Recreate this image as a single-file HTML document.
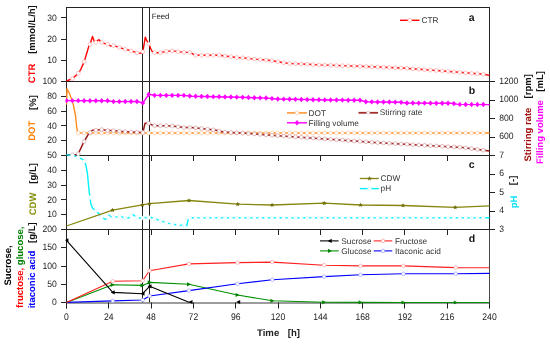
<!DOCTYPE html><html><head><meta charset="utf-8"><style>html,body{margin:0;padding:0;background:#fff;width:550px;height:345px;overflow:hidden;position:relative;font-family:"Liberation Sans",sans-serif}</style></head><body><svg width="550" height="345" viewBox="0 0 550 345" style="position:absolute;left:0;top:0;will-change:transform;text-rendering:geometricPrecision">
<rect width="550" height="345" fill="#fff"/>
<defs>
<clipPath id="ca"><rect x="65.5" y="4.5" width="425.0" height="79.0"/></clipPath>
<clipPath id="cb"><rect x="65.5" y="78.5" width="425.0" height="79.0"/></clipPath>
<clipPath id="cc"><rect x="65.5" y="152.5" width="425.0" height="79.0"/></clipPath>
<clipPath id="cd"><rect x="65.5" y="226.5" width="425.0" height="78.0"/></clipPath>
</defs>
<line x1="66.5" y1="7.5" x2="489.5" y2="7.5" stroke="#222" stroke-width="1" fill="none"/>
<line x1="66.5" y1="7.0" x2="66.5" y2="308.5" stroke="#222" stroke-width="1" fill="none"/>
<line x1="489.5" y1="7.0" x2="489.5" y2="230.0" stroke="#222" stroke-width="1" fill="none"/>
<line x1="489.5" y1="230.0" x2="489.5" y2="308.5" stroke="#4a4a4a" stroke-width="1.05"/>
<line x1="66.5" y1="303" x2="489.5" y2="303" stroke="#3a3a3a" stroke-width="1.1"/>
<line x1="66.5" y1="81.5" x2="489.5" y2="81.5" stroke="#222" stroke-width="1" fill="none"/>
<line x1="66.5" y1="155.5" x2="489.5" y2="155.5" stroke="#222" stroke-width="1" fill="none"/>
<line x1="66.5" y1="229.5" x2="489.5" y2="229.5" stroke="#222" stroke-width="1" fill="none"/>
<line x1="142.5" y1="7.5" x2="142.5" y2="302.5" stroke="#222" stroke-width="1" fill="none"/>
<line x1="149.5" y1="7.5" x2="149.5" y2="302.5" stroke="#222" stroke-width="1" fill="none"/>
<line x1="61" y1="60.5" x2="66.5" y2="60.5" stroke="#222" stroke-width="1" fill="none"/>
<line x1="61" y1="39.5" x2="66.5" y2="39.5" stroke="#222" stroke-width="1" fill="none"/>
<line x1="61" y1="17.5" x2="66.5" y2="17.5" stroke="#222" stroke-width="1" fill="none"/>
<line x1="61" y1="155.5" x2="66.5" y2="155.5" stroke="#222" stroke-width="1" fill="none"/>
<line x1="61" y1="140.5" x2="66.5" y2="140.5" stroke="#222" stroke-width="1" fill="none"/>
<line x1="61" y1="125.5" x2="66.5" y2="125.5" stroke="#222" stroke-width="1" fill="none"/>
<line x1="61" y1="111.5" x2="66.5" y2="111.5" stroke="#222" stroke-width="1" fill="none"/>
<line x1="61" y1="96.5" x2="66.5" y2="96.5" stroke="#222" stroke-width="1" fill="none"/>
<line x1="61" y1="81.5" x2="66.5" y2="81.5" stroke="#222" stroke-width="1" fill="none"/>
<line x1="61" y1="229.5" x2="66.5" y2="229.5" stroke="#222" stroke-width="1" fill="none"/>
<line x1="61" y1="214.5" x2="66.5" y2="214.5" stroke="#222" stroke-width="1" fill="none"/>
<line x1="61" y1="199.5" x2="66.5" y2="199.5" stroke="#222" stroke-width="1" fill="none"/>
<line x1="61" y1="185.5" x2="66.5" y2="185.5" stroke="#222" stroke-width="1" fill="none"/>
<line x1="61" y1="170.5" x2="66.5" y2="170.5" stroke="#222" stroke-width="1" fill="none"/>
<line x1="61" y1="155.5" x2="66.5" y2="155.5" stroke="#222" stroke-width="1" fill="none"/>
<line x1="61" y1="302.5" x2="66.5" y2="302.5" stroke="#222" stroke-width="1" fill="none"/>
<line x1="61" y1="284.5" x2="66.5" y2="284.5" stroke="#222" stroke-width="1" fill="none"/>
<line x1="61" y1="266.5" x2="66.5" y2="266.5" stroke="#222" stroke-width="1" fill="none"/>
<line x1="61" y1="247.5" x2="66.5" y2="247.5" stroke="#222" stroke-width="1" fill="none"/>
<line x1="61" y1="229.5" x2="66.5" y2="229.5" stroke="#222" stroke-width="1" fill="none"/>
<line x1="489.5" y1="155.5" x2="495" y2="155.5" stroke="#222" stroke-width="1" fill="none"/>
<line x1="489.5" y1="137.5" x2="495" y2="137.5" stroke="#222" stroke-width="1" fill="none"/>
<line x1="489.5" y1="118.5" x2="495" y2="118.5" stroke="#222" stroke-width="1" fill="none"/>
<line x1="489.5" y1="100.5" x2="495" y2="100.5" stroke="#222" stroke-width="1" fill="none"/>
<line x1="489.5" y1="81.5" x2="495" y2="81.5" stroke="#222" stroke-width="1" fill="none"/>
<line x1="489.5" y1="229.5" x2="495" y2="229.5" stroke="#222" stroke-width="1" fill="none"/>
<line x1="489.5" y1="211.5" x2="495" y2="211.5" stroke="#222" stroke-width="1" fill="none"/>
<line x1="489.5" y1="192.5" x2="495" y2="192.5" stroke="#222" stroke-width="1" fill="none"/>
<line x1="489.5" y1="174.5" x2="495" y2="174.5" stroke="#222" stroke-width="1" fill="none"/>
<line x1="489.5" y1="155.5" x2="495" y2="155.5" stroke="#222" stroke-width="1" fill="none"/>
<line x1="66.5" y1="302.5" x2="66.5" y2="308.5" stroke="#222" stroke-width="1" fill="none"/>
<line x1="108.5" y1="155.5" x2="108.5" y2="161.0" stroke="#222" stroke-width="1" fill="none"/>
<line x1="108.5" y1="229.5" x2="108.5" y2="235.0" stroke="#222" stroke-width="1" fill="none"/>
<line x1="108.5" y1="302.5" x2="108.5" y2="308.5" stroke="#222" stroke-width="1" fill="none"/>
<line x1="151.5" y1="155.5" x2="151.5" y2="161.0" stroke="#222" stroke-width="1" fill="none"/>
<line x1="151.5" y1="229.5" x2="151.5" y2="235.0" stroke="#222" stroke-width="1" fill="none"/>
<line x1="151.5" y1="302.5" x2="151.5" y2="308.5" stroke="#222" stroke-width="1" fill="none"/>
<line x1="193.5" y1="155.5" x2="193.5" y2="161.0" stroke="#222" stroke-width="1" fill="none"/>
<line x1="193.5" y1="229.5" x2="193.5" y2="235.0" stroke="#222" stroke-width="1" fill="none"/>
<line x1="193.5" y1="302.5" x2="193.5" y2="308.5" stroke="#222" stroke-width="1" fill="none"/>
<line x1="235.5" y1="155.5" x2="235.5" y2="161.0" stroke="#222" stroke-width="1" fill="none"/>
<line x1="235.5" y1="229.5" x2="235.5" y2="235.0" stroke="#222" stroke-width="1" fill="none"/>
<line x1="235.5" y1="302.5" x2="235.5" y2="308.5" stroke="#222" stroke-width="1" fill="none"/>
<line x1="278.5" y1="155.5" x2="278.5" y2="161.0" stroke="#222" stroke-width="1" fill="none"/>
<line x1="278.5" y1="229.5" x2="278.5" y2="235.0" stroke="#222" stroke-width="1" fill="none"/>
<line x1="278.5" y1="302.5" x2="278.5" y2="308.5" stroke="#222" stroke-width="1" fill="none"/>
<line x1="320.5" y1="155.5" x2="320.5" y2="161.0" stroke="#222" stroke-width="1" fill="none"/>
<line x1="320.5" y1="229.5" x2="320.5" y2="235.0" stroke="#222" stroke-width="1" fill="none"/>
<line x1="320.5" y1="302.5" x2="320.5" y2="308.5" stroke="#222" stroke-width="1" fill="none"/>
<line x1="362.5" y1="155.5" x2="362.5" y2="161.0" stroke="#222" stroke-width="1" fill="none"/>
<line x1="362.5" y1="229.5" x2="362.5" y2="235.0" stroke="#222" stroke-width="1" fill="none"/>
<line x1="362.5" y1="302.5" x2="362.5" y2="308.5" stroke="#222" stroke-width="1" fill="none"/>
<line x1="404.5" y1="155.5" x2="404.5" y2="161.0" stroke="#222" stroke-width="1" fill="none"/>
<line x1="404.5" y1="229.5" x2="404.5" y2="235.0" stroke="#222" stroke-width="1" fill="none"/>
<line x1="404.5" y1="302.5" x2="404.5" y2="308.5" stroke="#222" stroke-width="1" fill="none"/>
<line x1="447.5" y1="155.5" x2="447.5" y2="161.0" stroke="#222" stroke-width="1" fill="none"/>
<line x1="447.5" y1="229.5" x2="447.5" y2="235.0" stroke="#222" stroke-width="1" fill="none"/>
<line x1="447.5" y1="302.5" x2="447.5" y2="308.5" stroke="#222" stroke-width="1" fill="none"/>
<line x1="489.5" y1="302.5" x2="489.5" y2="308.5" stroke="#222" stroke-width="1" fill="none"/>
<g clip-path="url(#ca)">
<polyline points="66.50,81.00 72.50,78.60 77.90,73.70 80.60,69.80 83.90,62.40 86.30,54.70 88.70,46.60 89.90,44.70 92.50,36.40 94.10,41.00 95.50,42.90 96.80,41.00 99.00,39.70 101.20,42.30 105.00,43.70 107.70,44.20 110.60,46.00 113.60,45.60 119.50,47.50 125.20,49.30 131.30,50.90 137.00,52.90 142.60,53.20 145.30,37.10 146.50,40.20 148.70,43.80 150.80,48.70 152.30,51.70 154.40,52.70 160.10,52.70 166.20,51.40 172.00,50.90 178.10,51.60 183.90,52.40 189.70,52.40 195.50,55.30 219.10,55.30 225.10,56.00 230.90,56.70 236.90,57.50 242.60,57.80 254.30,59.10 266.20,60.00 272.00,60.70 278.10,61.70 283.90,62.70 289.90,63.60 295.60,63.60 307.20,64.20 318.60,64.90 360.00,66.30 401.30,68.00 440.00,70.80 483.60,74.20 489.50,75.40" fill="none" stroke="#ff0000" stroke-width="1.4" stroke-linejoin="round" />
<circle cx="72.40" cy="78.64" r="1.9" fill="#fff" stroke="#ff9a9a" stroke-width="0.6"/>
<circle cx="78.27" cy="73.17" r="1.9" fill="#fff" stroke="#ff9a9a" stroke-width="0.6"/>
<circle cx="84.14" cy="61.63" r="1.9" fill="#fff" stroke="#ff9a9a" stroke-width="0.6"/>
<circle cx="90.01" cy="44.35" r="1.9" fill="#fff" stroke="#ff9a9a" stroke-width="0.6"/>
<circle cx="95.88" cy="42.34" r="1.9" fill="#fff" stroke="#ff9a9a" stroke-width="0.6"/>
<circle cx="101.75" cy="42.50" r="1.9" fill="#fff" stroke="#ff9a9a" stroke-width="0.6"/>
<circle cx="107.62" cy="44.19" r="1.9" fill="#fff" stroke="#ff9a9a" stroke-width="0.6"/>
<circle cx="113.49" cy="45.61" r="1.9" fill="#fff" stroke="#ff9a9a" stroke-width="0.6"/>
<circle cx="119.36" cy="47.45" r="1.9" fill="#fff" stroke="#ff9a9a" stroke-width="0.6"/>
<circle cx="125.23" cy="49.31" r="1.9" fill="#fff" stroke="#ff9a9a" stroke-width="0.6"/>
<circle cx="131.10" cy="50.85" r="1.9" fill="#fff" stroke="#ff9a9a" stroke-width="0.6"/>
<circle cx="136.97" cy="52.89" r="1.9" fill="#fff" stroke="#ff9a9a" stroke-width="0.6"/>
<circle cx="142.84" cy="51.77" r="1.9" fill="#fff" stroke="#ff9a9a" stroke-width="0.6"/>
<circle cx="148.71" cy="43.82" r="1.9" fill="#fff" stroke="#ff9a9a" stroke-width="0.6"/>
<circle cx="154.58" cy="52.70" r="1.9" fill="#fff" stroke="#ff9a9a" stroke-width="0.6"/>
<circle cx="160.45" cy="52.63" r="1.9" fill="#fff" stroke="#ff9a9a" stroke-width="0.6"/>
<circle cx="166.32" cy="51.39" r="1.9" fill="#fff" stroke="#ff9a9a" stroke-width="0.6"/>
<circle cx="172.19" cy="50.92" r="1.9" fill="#fff" stroke="#ff9a9a" stroke-width="0.6"/>
<circle cx="178.06" cy="51.60" r="1.9" fill="#fff" stroke="#ff9a9a" stroke-width="0.6"/>
<circle cx="183.93" cy="52.40" r="1.9" fill="#fff" stroke="#ff9a9a" stroke-width="0.6"/>
<circle cx="189.80" cy="52.45" r="1.9" fill="#fff" stroke="#ff9a9a" stroke-width="0.6"/>
<circle cx="195.67" cy="55.30" r="1.9" fill="#fff" stroke="#ff9a9a" stroke-width="0.6"/>
<circle cx="201.54" cy="55.30" r="1.9" fill="#fff" stroke="#ff9a9a" stroke-width="0.6"/>
<circle cx="207.41" cy="55.30" r="1.9" fill="#fff" stroke="#ff9a9a" stroke-width="0.6"/>
<circle cx="213.28" cy="55.30" r="1.9" fill="#fff" stroke="#ff9a9a" stroke-width="0.6"/>
<circle cx="219.15" cy="55.31" r="1.9" fill="#fff" stroke="#ff9a9a" stroke-width="0.6"/>
<circle cx="225.02" cy="55.99" r="1.9" fill="#fff" stroke="#ff9a9a" stroke-width="0.6"/>
<circle cx="230.89" cy="56.70" r="1.9" fill="#fff" stroke="#ff9a9a" stroke-width="0.6"/>
<circle cx="236.76" cy="57.48" r="1.9" fill="#fff" stroke="#ff9a9a" stroke-width="0.6"/>
<circle cx="242.63" cy="57.80" r="1.9" fill="#fff" stroke="#ff9a9a" stroke-width="0.6"/>
<circle cx="248.50" cy="58.46" r="1.9" fill="#fff" stroke="#ff9a9a" stroke-width="0.6"/>
<circle cx="254.37" cy="59.11" r="1.9" fill="#fff" stroke="#ff9a9a" stroke-width="0.6"/>
<circle cx="260.24" cy="59.55" r="1.9" fill="#fff" stroke="#ff9a9a" stroke-width="0.6"/>
<circle cx="266.11" cy="59.99" r="1.9" fill="#fff" stroke="#ff9a9a" stroke-width="0.6"/>
<circle cx="271.98" cy="60.70" r="1.9" fill="#fff" stroke="#ff9a9a" stroke-width="0.6"/>
<circle cx="277.85" cy="61.66" r="1.9" fill="#fff" stroke="#ff9a9a" stroke-width="0.6"/>
<circle cx="283.72" cy="62.67" r="1.9" fill="#fff" stroke="#ff9a9a" stroke-width="0.6"/>
<circle cx="289.59" cy="63.55" r="1.9" fill="#fff" stroke="#ff9a9a" stroke-width="0.6"/>
<circle cx="295.46" cy="63.60" r="1.9" fill="#fff" stroke="#ff9a9a" stroke-width="0.6"/>
<circle cx="301.33" cy="63.90" r="1.9" fill="#fff" stroke="#ff9a9a" stroke-width="0.6"/>
<circle cx="307.20" cy="64.20" r="1.9" fill="#fff" stroke="#ff9a9a" stroke-width="0.6"/>
<circle cx="313.07" cy="64.56" r="1.9" fill="#fff" stroke="#ff9a9a" stroke-width="0.6"/>
<circle cx="318.94" cy="64.91" r="1.9" fill="#fff" stroke="#ff9a9a" stroke-width="0.6"/>
<circle cx="324.81" cy="65.11" r="1.9" fill="#fff" stroke="#ff9a9a" stroke-width="0.6"/>
<circle cx="330.68" cy="65.31" r="1.9" fill="#fff" stroke="#ff9a9a" stroke-width="0.6"/>
<circle cx="336.55" cy="65.51" r="1.9" fill="#fff" stroke="#ff9a9a" stroke-width="0.6"/>
<circle cx="342.42" cy="65.71" r="1.9" fill="#fff" stroke="#ff9a9a" stroke-width="0.6"/>
<circle cx="348.29" cy="65.90" r="1.9" fill="#fff" stroke="#ff9a9a" stroke-width="0.6"/>
<circle cx="354.16" cy="66.10" r="1.9" fill="#fff" stroke="#ff9a9a" stroke-width="0.6"/>
<circle cx="360.03" cy="66.30" r="1.9" fill="#fff" stroke="#ff9a9a" stroke-width="0.6"/>
<circle cx="365.90" cy="66.54" r="1.9" fill="#fff" stroke="#ff9a9a" stroke-width="0.6"/>
<circle cx="371.77" cy="66.78" r="1.9" fill="#fff" stroke="#ff9a9a" stroke-width="0.6"/>
<circle cx="377.64" cy="67.03" r="1.9" fill="#fff" stroke="#ff9a9a" stroke-width="0.6"/>
<circle cx="383.51" cy="67.27" r="1.9" fill="#fff" stroke="#ff9a9a" stroke-width="0.6"/>
<circle cx="389.38" cy="67.51" r="1.9" fill="#fff" stroke="#ff9a9a" stroke-width="0.6"/>
<circle cx="395.25" cy="67.75" r="1.9" fill="#fff" stroke="#ff9a9a" stroke-width="0.6"/>
<circle cx="401.12" cy="67.99" r="1.9" fill="#fff" stroke="#ff9a9a" stroke-width="0.6"/>
<circle cx="406.99" cy="68.41" r="1.9" fill="#fff" stroke="#ff9a9a" stroke-width="0.6"/>
<circle cx="412.86" cy="68.84" r="1.9" fill="#fff" stroke="#ff9a9a" stroke-width="0.6"/>
<circle cx="418.73" cy="69.26" r="1.9" fill="#fff" stroke="#ff9a9a" stroke-width="0.6"/>
<circle cx="424.60" cy="69.69" r="1.9" fill="#fff" stroke="#ff9a9a" stroke-width="0.6"/>
<circle cx="430.47" cy="70.11" r="1.9" fill="#fff" stroke="#ff9a9a" stroke-width="0.6"/>
<circle cx="436.34" cy="70.54" r="1.9" fill="#fff" stroke="#ff9a9a" stroke-width="0.6"/>
<circle cx="442.21" cy="70.97" r="1.9" fill="#fff" stroke="#ff9a9a" stroke-width="0.6"/>
<circle cx="448.08" cy="71.43" r="1.9" fill="#fff" stroke="#ff9a9a" stroke-width="0.6"/>
<circle cx="453.95" cy="71.89" r="1.9" fill="#fff" stroke="#ff9a9a" stroke-width="0.6"/>
<circle cx="459.82" cy="72.35" r="1.9" fill="#fff" stroke="#ff9a9a" stroke-width="0.6"/>
<circle cx="465.69" cy="72.80" r="1.9" fill="#fff" stroke="#ff9a9a" stroke-width="0.6"/>
<circle cx="471.56" cy="73.26" r="1.9" fill="#fff" stroke="#ff9a9a" stroke-width="0.6"/>
<circle cx="477.43" cy="73.72" r="1.9" fill="#fff" stroke="#ff9a9a" stroke-width="0.6"/>
<circle cx="483.30" cy="74.18" r="1.9" fill="#fff" stroke="#ff9a9a" stroke-width="0.6"/>
</g>
<g clip-path="url(#cb)">
<polyline points="66.50,104.60 67.00,88.80 69.90,94.40 73.30,104.60 75.60,116.00 76.70,127.20 77.80,133.00 489.50,133.00" fill="none" stroke="#ff8c1a" stroke-width="1.4" stroke-linejoin="round" />
<circle cx="78.20" cy="133.00" r="1.9" fill="#fff" stroke="#ffc090" stroke-width="0.6"/>
<circle cx="84.07" cy="133.00" r="1.9" fill="#fff" stroke="#ffc090" stroke-width="0.6"/>
<circle cx="89.94" cy="133.00" r="1.9" fill="#fff" stroke="#ffc090" stroke-width="0.6"/>
<circle cx="95.81" cy="133.00" r="1.9" fill="#fff" stroke="#ffc090" stroke-width="0.6"/>
<circle cx="101.68" cy="133.00" r="1.9" fill="#fff" stroke="#ffc090" stroke-width="0.6"/>
<circle cx="107.55" cy="133.00" r="1.9" fill="#fff" stroke="#ffc090" stroke-width="0.6"/>
<circle cx="113.42" cy="133.00" r="1.9" fill="#fff" stroke="#ffc090" stroke-width="0.6"/>
<circle cx="119.29" cy="133.00" r="1.9" fill="#fff" stroke="#ffc090" stroke-width="0.6"/>
<circle cx="125.16" cy="133.00" r="1.9" fill="#fff" stroke="#ffc090" stroke-width="0.6"/>
<circle cx="131.03" cy="133.00" r="1.9" fill="#fff" stroke="#ffc090" stroke-width="0.6"/>
<circle cx="136.90" cy="133.00" r="1.9" fill="#fff" stroke="#ffc090" stroke-width="0.6"/>
<circle cx="142.77" cy="133.00" r="1.9" fill="#fff" stroke="#ffc090" stroke-width="0.6"/>
<circle cx="148.64" cy="133.00" r="1.9" fill="#fff" stroke="#ffc090" stroke-width="0.6"/>
<circle cx="154.51" cy="133.00" r="1.9" fill="#fff" stroke="#ffc090" stroke-width="0.6"/>
<circle cx="160.38" cy="133.00" r="1.9" fill="#fff" stroke="#ffc090" stroke-width="0.6"/>
<circle cx="166.25" cy="133.00" r="1.9" fill="#fff" stroke="#ffc090" stroke-width="0.6"/>
<circle cx="172.12" cy="133.00" r="1.9" fill="#fff" stroke="#ffc090" stroke-width="0.6"/>
<circle cx="177.99" cy="133.00" r="1.9" fill="#fff" stroke="#ffc090" stroke-width="0.6"/>
<circle cx="183.86" cy="133.00" r="1.9" fill="#fff" stroke="#ffc090" stroke-width="0.6"/>
<circle cx="189.73" cy="133.00" r="1.9" fill="#fff" stroke="#ffc090" stroke-width="0.6"/>
<circle cx="195.60" cy="133.00" r="1.9" fill="#fff" stroke="#ffc090" stroke-width="0.6"/>
<circle cx="201.47" cy="133.00" r="1.9" fill="#fff" stroke="#ffc090" stroke-width="0.6"/>
<circle cx="207.34" cy="133.00" r="1.9" fill="#fff" stroke="#ffc090" stroke-width="0.6"/>
<circle cx="213.21" cy="133.00" r="1.9" fill="#fff" stroke="#ffc090" stroke-width="0.6"/>
<circle cx="219.08" cy="133.00" r="1.9" fill="#fff" stroke="#ffc090" stroke-width="0.6"/>
<circle cx="224.95" cy="133.00" r="1.9" fill="#fff" stroke="#ffc090" stroke-width="0.6"/>
<circle cx="230.82" cy="133.00" r="1.9" fill="#fff" stroke="#ffc090" stroke-width="0.6"/>
<circle cx="236.69" cy="133.00" r="1.9" fill="#fff" stroke="#ffc090" stroke-width="0.6"/>
<circle cx="242.56" cy="133.00" r="1.9" fill="#fff" stroke="#ffc090" stroke-width="0.6"/>
<circle cx="248.43" cy="133.00" r="1.9" fill="#fff" stroke="#ffc090" stroke-width="0.6"/>
<circle cx="254.30" cy="133.00" r="1.9" fill="#fff" stroke="#ffc090" stroke-width="0.6"/>
<circle cx="260.17" cy="133.00" r="1.9" fill="#fff" stroke="#ffc090" stroke-width="0.6"/>
<circle cx="266.04" cy="133.00" r="1.9" fill="#fff" stroke="#ffc090" stroke-width="0.6"/>
<circle cx="271.91" cy="133.00" r="1.9" fill="#fff" stroke="#ffc090" stroke-width="0.6"/>
<circle cx="277.78" cy="133.00" r="1.9" fill="#fff" stroke="#ffc090" stroke-width="0.6"/>
<circle cx="283.65" cy="133.00" r="1.9" fill="#fff" stroke="#ffc090" stroke-width="0.6"/>
<circle cx="289.52" cy="133.00" r="1.9" fill="#fff" stroke="#ffc090" stroke-width="0.6"/>
<circle cx="295.39" cy="133.00" r="1.9" fill="#fff" stroke="#ffc090" stroke-width="0.6"/>
<circle cx="301.26" cy="133.00" r="1.9" fill="#fff" stroke="#ffc090" stroke-width="0.6"/>
<circle cx="307.13" cy="133.00" r="1.9" fill="#fff" stroke="#ffc090" stroke-width="0.6"/>
<circle cx="313.00" cy="133.00" r="1.9" fill="#fff" stroke="#ffc090" stroke-width="0.6"/>
<circle cx="318.87" cy="133.00" r="1.9" fill="#fff" stroke="#ffc090" stroke-width="0.6"/>
<circle cx="324.74" cy="133.00" r="1.9" fill="#fff" stroke="#ffc090" stroke-width="0.6"/>
<circle cx="330.61" cy="133.00" r="1.9" fill="#fff" stroke="#ffc090" stroke-width="0.6"/>
<circle cx="336.48" cy="133.00" r="1.9" fill="#fff" stroke="#ffc090" stroke-width="0.6"/>
<circle cx="342.35" cy="133.00" r="1.9" fill="#fff" stroke="#ffc090" stroke-width="0.6"/>
<circle cx="348.22" cy="133.00" r="1.9" fill="#fff" stroke="#ffc090" stroke-width="0.6"/>
<circle cx="354.09" cy="133.00" r="1.9" fill="#fff" stroke="#ffc090" stroke-width="0.6"/>
<circle cx="359.96" cy="133.00" r="1.9" fill="#fff" stroke="#ffc090" stroke-width="0.6"/>
<circle cx="365.83" cy="133.00" r="1.9" fill="#fff" stroke="#ffc090" stroke-width="0.6"/>
<circle cx="371.70" cy="133.00" r="1.9" fill="#fff" stroke="#ffc090" stroke-width="0.6"/>
<circle cx="377.57" cy="133.00" r="1.9" fill="#fff" stroke="#ffc090" stroke-width="0.6"/>
<circle cx="383.44" cy="133.00" r="1.9" fill="#fff" stroke="#ffc090" stroke-width="0.6"/>
<circle cx="389.31" cy="133.00" r="1.9" fill="#fff" stroke="#ffc090" stroke-width="0.6"/>
<circle cx="395.18" cy="133.00" r="1.9" fill="#fff" stroke="#ffc090" stroke-width="0.6"/>
<circle cx="401.05" cy="133.00" r="1.9" fill="#fff" stroke="#ffc090" stroke-width="0.6"/>
<circle cx="406.92" cy="133.00" r="1.9" fill="#fff" stroke="#ffc090" stroke-width="0.6"/>
<circle cx="412.79" cy="133.00" r="1.9" fill="#fff" stroke="#ffc090" stroke-width="0.6"/>
<circle cx="418.66" cy="133.00" r="1.9" fill="#fff" stroke="#ffc090" stroke-width="0.6"/>
<circle cx="424.53" cy="133.00" r="1.9" fill="#fff" stroke="#ffc090" stroke-width="0.6"/>
<circle cx="430.40" cy="133.00" r="1.9" fill="#fff" stroke="#ffc090" stroke-width="0.6"/>
<circle cx="436.27" cy="133.00" r="1.9" fill="#fff" stroke="#ffc090" stroke-width="0.6"/>
<circle cx="442.14" cy="133.00" r="1.9" fill="#fff" stroke="#ffc090" stroke-width="0.6"/>
<circle cx="448.01" cy="133.00" r="1.9" fill="#fff" stroke="#ffc090" stroke-width="0.6"/>
<circle cx="453.88" cy="133.00" r="1.9" fill="#fff" stroke="#ffc090" stroke-width="0.6"/>
<circle cx="459.75" cy="133.00" r="1.9" fill="#fff" stroke="#ffc090" stroke-width="0.6"/>
<circle cx="465.62" cy="133.00" r="1.9" fill="#fff" stroke="#ffc090" stroke-width="0.6"/>
<circle cx="471.49" cy="133.00" r="1.9" fill="#fff" stroke="#ffc090" stroke-width="0.6"/>
<circle cx="477.36" cy="133.00" r="1.9" fill="#fff" stroke="#ffc090" stroke-width="0.6"/>
<circle cx="483.23" cy="133.00" r="1.9" fill="#fff" stroke="#ffc090" stroke-width="0.6"/>
<polyline points="66.50,154.80 77.80,154.80 83.50,142.60 88.70,133.60 92.50,130.20 95.90,130.20 101.60,129.50 107.20,130.60 112.90,130.60 119.70,131.30 131.00,132.00 142.90,132.50 145.00,123.30 148.80,123.30 153.30,125.70 166.40,125.70 172.10,126.10 178.00,126.80 183.90,127.60 191.60,127.40 214.90,130.00 223.60,132.10 252.70,133.80 281.70,135.90 310.80,137.90 340.00,139.90 374.20,142.40 418.40,145.00 462.50,147.40 489.50,151.00" fill="none" stroke="#981818" stroke-width="1.5" stroke-linejoin="round" />
<circle cx="72.40" cy="154.80" r="1.9" fill="#fff" stroke="#d09090" stroke-width="0.6"/>
<circle cx="78.27" cy="153.79" r="1.9" fill="#fff" stroke="#d09090" stroke-width="0.6"/>
<circle cx="84.14" cy="141.49" r="1.9" fill="#fff" stroke="#d09090" stroke-width="0.6"/>
<circle cx="90.01" cy="132.43" r="1.9" fill="#fff" stroke="#d09090" stroke-width="0.6"/>
<circle cx="95.88" cy="130.20" r="1.9" fill="#fff" stroke="#d09090" stroke-width="0.6"/>
<circle cx="101.75" cy="129.53" r="1.9" fill="#fff" stroke="#d09090" stroke-width="0.6"/>
<circle cx="107.62" cy="130.60" r="1.9" fill="#fff" stroke="#d09090" stroke-width="0.6"/>
<circle cx="113.49" cy="130.66" r="1.9" fill="#fff" stroke="#d09090" stroke-width="0.6"/>
<circle cx="119.36" cy="131.27" r="1.9" fill="#fff" stroke="#d09090" stroke-width="0.6"/>
<circle cx="125.23" cy="131.64" r="1.9" fill="#fff" stroke="#d09090" stroke-width="0.6"/>
<circle cx="131.10" cy="132.00" r="1.9" fill="#fff" stroke="#d09090" stroke-width="0.6"/>
<circle cx="136.97" cy="132.25" r="1.9" fill="#fff" stroke="#d09090" stroke-width="0.6"/>
<circle cx="142.84" cy="132.50" r="1.9" fill="#fff" stroke="#d09090" stroke-width="0.6"/>
<circle cx="148.71" cy="123.30" r="1.9" fill="#fff" stroke="#d09090" stroke-width="0.6"/>
<circle cx="154.58" cy="125.70" r="1.9" fill="#fff" stroke="#d09090" stroke-width="0.6"/>
<circle cx="160.45" cy="125.70" r="1.9" fill="#fff" stroke="#d09090" stroke-width="0.6"/>
<circle cx="166.32" cy="125.70" r="1.9" fill="#fff" stroke="#d09090" stroke-width="0.6"/>
<circle cx="172.19" cy="126.11" r="1.9" fill="#fff" stroke="#d09090" stroke-width="0.6"/>
<circle cx="178.06" cy="126.81" r="1.9" fill="#fff" stroke="#d09090" stroke-width="0.6"/>
<circle cx="183.93" cy="127.60" r="1.9" fill="#fff" stroke="#d09090" stroke-width="0.6"/>
<circle cx="189.80" cy="127.45" r="1.9" fill="#fff" stroke="#d09090" stroke-width="0.6"/>
<circle cx="195.67" cy="127.85" r="1.9" fill="#fff" stroke="#d09090" stroke-width="0.6"/>
<circle cx="201.54" cy="128.51" r="1.9" fill="#fff" stroke="#d09090" stroke-width="0.6"/>
<circle cx="207.41" cy="129.16" r="1.9" fill="#fff" stroke="#d09090" stroke-width="0.6"/>
<circle cx="213.28" cy="129.82" r="1.9" fill="#fff" stroke="#d09090" stroke-width="0.6"/>
<circle cx="219.15" cy="131.03" r="1.9" fill="#fff" stroke="#d09090" stroke-width="0.6"/>
<circle cx="225.02" cy="132.18" r="1.9" fill="#fff" stroke="#d09090" stroke-width="0.6"/>
<circle cx="230.89" cy="132.53" r="1.9" fill="#fff" stroke="#d09090" stroke-width="0.6"/>
<circle cx="236.76" cy="132.87" r="1.9" fill="#fff" stroke="#d09090" stroke-width="0.6"/>
<circle cx="242.63" cy="133.21" r="1.9" fill="#fff" stroke="#d09090" stroke-width="0.6"/>
<circle cx="248.50" cy="133.55" r="1.9" fill="#fff" stroke="#d09090" stroke-width="0.6"/>
<circle cx="254.37" cy="133.92" r="1.9" fill="#fff" stroke="#d09090" stroke-width="0.6"/>
<circle cx="260.24" cy="134.35" r="1.9" fill="#fff" stroke="#d09090" stroke-width="0.6"/>
<circle cx="266.11" cy="134.77" r="1.9" fill="#fff" stroke="#d09090" stroke-width="0.6"/>
<circle cx="271.98" cy="135.20" r="1.9" fill="#fff" stroke="#d09090" stroke-width="0.6"/>
<circle cx="277.85" cy="135.62" r="1.9" fill="#fff" stroke="#d09090" stroke-width="0.6"/>
<circle cx="283.72" cy="136.04" r="1.9" fill="#fff" stroke="#d09090" stroke-width="0.6"/>
<circle cx="289.59" cy="136.44" r="1.9" fill="#fff" stroke="#d09090" stroke-width="0.6"/>
<circle cx="295.46" cy="136.85" r="1.9" fill="#fff" stroke="#d09090" stroke-width="0.6"/>
<circle cx="301.33" cy="137.25" r="1.9" fill="#fff" stroke="#d09090" stroke-width="0.6"/>
<circle cx="307.20" cy="137.65" r="1.9" fill="#fff" stroke="#d09090" stroke-width="0.6"/>
<circle cx="313.07" cy="138.06" r="1.9" fill="#fff" stroke="#d09090" stroke-width="0.6"/>
<circle cx="318.94" cy="138.46" r="1.9" fill="#fff" stroke="#d09090" stroke-width="0.6"/>
<circle cx="324.81" cy="138.86" r="1.9" fill="#fff" stroke="#d09090" stroke-width="0.6"/>
<circle cx="330.68" cy="139.26" r="1.9" fill="#fff" stroke="#d09090" stroke-width="0.6"/>
<circle cx="336.55" cy="139.66" r="1.9" fill="#fff" stroke="#d09090" stroke-width="0.6"/>
<circle cx="342.42" cy="140.08" r="1.9" fill="#fff" stroke="#d09090" stroke-width="0.6"/>
<circle cx="348.29" cy="140.51" r="1.9" fill="#fff" stroke="#d09090" stroke-width="0.6"/>
<circle cx="354.16" cy="140.94" r="1.9" fill="#fff" stroke="#d09090" stroke-width="0.6"/>
<circle cx="360.03" cy="141.36" r="1.9" fill="#fff" stroke="#d09090" stroke-width="0.6"/>
<circle cx="365.90" cy="141.79" r="1.9" fill="#fff" stroke="#d09090" stroke-width="0.6"/>
<circle cx="371.77" cy="142.22" r="1.9" fill="#fff" stroke="#d09090" stroke-width="0.6"/>
<circle cx="377.64" cy="142.60" r="1.9" fill="#fff" stroke="#d09090" stroke-width="0.6"/>
<circle cx="383.51" cy="142.95" r="1.9" fill="#fff" stroke="#d09090" stroke-width="0.6"/>
<circle cx="389.38" cy="143.29" r="1.9" fill="#fff" stroke="#d09090" stroke-width="0.6"/>
<circle cx="395.25" cy="143.64" r="1.9" fill="#fff" stroke="#d09090" stroke-width="0.6"/>
<circle cx="401.12" cy="143.98" r="1.9" fill="#fff" stroke="#d09090" stroke-width="0.6"/>
<circle cx="406.99" cy="144.33" r="1.9" fill="#fff" stroke="#d09090" stroke-width="0.6"/>
<circle cx="412.86" cy="144.67" r="1.9" fill="#fff" stroke="#d09090" stroke-width="0.6"/>
<circle cx="418.73" cy="145.02" r="1.9" fill="#fff" stroke="#d09090" stroke-width="0.6"/>
<circle cx="424.60" cy="145.34" r="1.9" fill="#fff" stroke="#d09090" stroke-width="0.6"/>
<circle cx="430.47" cy="145.66" r="1.9" fill="#fff" stroke="#d09090" stroke-width="0.6"/>
<circle cx="436.34" cy="145.98" r="1.9" fill="#fff" stroke="#d09090" stroke-width="0.6"/>
<circle cx="442.21" cy="146.30" r="1.9" fill="#fff" stroke="#d09090" stroke-width="0.6"/>
<circle cx="448.08" cy="146.62" r="1.9" fill="#fff" stroke="#d09090" stroke-width="0.6"/>
<circle cx="453.95" cy="146.93" r="1.9" fill="#fff" stroke="#d09090" stroke-width="0.6"/>
<circle cx="459.82" cy="147.25" r="1.9" fill="#fff" stroke="#d09090" stroke-width="0.6"/>
<circle cx="465.69" cy="147.83" r="1.9" fill="#fff" stroke="#d09090" stroke-width="0.6"/>
<circle cx="471.56" cy="148.61" r="1.9" fill="#fff" stroke="#d09090" stroke-width="0.6"/>
<circle cx="477.43" cy="149.39" r="1.9" fill="#fff" stroke="#d09090" stroke-width="0.6"/>
<circle cx="483.30" cy="150.17" r="1.9" fill="#fff" stroke="#d09090" stroke-width="0.6"/>
<polyline points="66.50,100.60 107.90,100.80 113.60,101.60 137.00,101.50 142.90,102.90 148.80,94.30 154.90,95.40 184.00,95.40 191.60,96.20 238.10,97.20 267.20,98.10 276.00,99.00 330.00,100.00 360.00,100.30 366.00,101.80 400.00,102.20 406.00,103.00 452.00,103.30 458.00,104.40 489.50,104.60" fill="none" stroke="#ff00ff" stroke-width="1.4" stroke-linejoin="round" />
<path d="M66.50,97.90L68.80,100.60L66.50,103.30L64.20,100.60Z" fill="#ff00ff"/>
<path d="M72.37,97.93L74.67,100.63L72.37,103.33L70.07,100.63Z" fill="#ff00ff"/>
<path d="M78.24,97.96L80.54,100.66L78.24,103.36L75.94,100.66Z" fill="#ff00ff"/>
<path d="M84.11,97.99L86.41,100.69L84.11,103.39L81.81,100.69Z" fill="#ff00ff"/>
<path d="M89.98,98.01L92.28,100.71L89.98,103.41L87.68,100.71Z" fill="#ff00ff"/>
<path d="M95.85,98.04L98.15,100.74L95.85,103.44L93.55,100.74Z" fill="#ff00ff"/>
<path d="M101.72,98.07L104.02,100.77L101.72,103.47L99.42,100.77Z" fill="#ff00ff"/>
<path d="M107.59,98.10L109.89,100.80L107.59,103.50L105.29,100.80Z" fill="#ff00ff"/>
<path d="M113.46,98.88L115.76,101.58L113.46,104.28L111.16,101.58Z" fill="#ff00ff"/>
<path d="M119.33,98.88L121.63,101.58L119.33,104.28L117.03,101.58Z" fill="#ff00ff"/>
<path d="M125.20,98.85L127.50,101.55L125.20,104.25L122.90,101.55Z" fill="#ff00ff"/>
<path d="M131.07,98.83L133.37,101.53L131.07,104.23L128.77,101.53Z" fill="#ff00ff"/>
<path d="M136.94,98.80L139.24,101.50L136.94,104.20L134.64,101.50Z" fill="#ff00ff"/>
<path d="M142.81,100.18L145.11,102.88L142.81,105.58L140.51,102.88Z" fill="#ff00ff"/>
<path d="M148.68,91.77L150.98,94.47L148.68,97.17L146.38,94.47Z" fill="#ff00ff"/>
<path d="M154.55,92.64L156.85,95.34L154.55,98.04L152.25,95.34Z" fill="#ff00ff"/>
<path d="M160.42,92.70L162.72,95.40L160.42,98.10L158.12,95.40Z" fill="#ff00ff"/>
<path d="M166.29,92.70L168.59,95.40L166.29,98.10L163.99,95.40Z" fill="#ff00ff"/>
<path d="M172.16,92.70L174.46,95.40L172.16,98.10L169.86,95.40Z" fill="#ff00ff"/>
<path d="M178.03,92.70L180.33,95.40L178.03,98.10L175.73,95.40Z" fill="#ff00ff"/>
<path d="M183.90,92.70L186.20,95.40L183.90,98.10L181.60,95.40Z" fill="#ff00ff"/>
<path d="M189.77,93.31L192.07,96.01L189.77,98.71L187.47,96.01Z" fill="#ff00ff"/>
<path d="M195.64,93.59L197.94,96.29L195.64,98.99L193.34,96.29Z" fill="#ff00ff"/>
<path d="M201.51,93.71L203.81,96.41L201.51,99.11L199.21,96.41Z" fill="#ff00ff"/>
<path d="M207.38,93.84L209.68,96.54L207.38,99.24L205.08,96.54Z" fill="#ff00ff"/>
<path d="M213.25,93.97L215.55,96.67L213.25,99.37L210.95,96.67Z" fill="#ff00ff"/>
<path d="M219.12,94.09L221.42,96.79L219.12,99.49L216.82,96.79Z" fill="#ff00ff"/>
<path d="M224.99,94.22L227.29,96.92L224.99,99.62L222.69,96.92Z" fill="#ff00ff"/>
<path d="M230.86,94.34L233.16,97.04L230.86,99.74L228.56,97.04Z" fill="#ff00ff"/>
<path d="M236.73,94.47L239.03,97.17L236.73,99.87L234.43,97.17Z" fill="#ff00ff"/>
<path d="M242.60,94.64L244.90,97.34L242.60,100.04L240.30,97.34Z" fill="#ff00ff"/>
<path d="M248.47,94.82L250.77,97.52L248.47,100.22L246.17,97.52Z" fill="#ff00ff"/>
<path d="M254.34,95.00L256.64,97.70L254.34,100.40L252.04,97.70Z" fill="#ff00ff"/>
<path d="M260.21,95.18L262.51,97.88L260.21,100.58L257.91,97.88Z" fill="#ff00ff"/>
<path d="M266.08,95.37L268.38,98.07L266.08,100.77L263.78,98.07Z" fill="#ff00ff"/>
<path d="M271.95,95.89L274.25,98.59L271.95,101.29L269.65,98.59Z" fill="#ff00ff"/>
<path d="M277.82,96.33L280.12,99.03L277.82,101.73L275.52,99.03Z" fill="#ff00ff"/>
<path d="M283.69,96.44L285.99,99.14L283.69,101.84L281.39,99.14Z" fill="#ff00ff"/>
<path d="M289.56,96.55L291.86,99.25L289.56,101.95L287.26,99.25Z" fill="#ff00ff"/>
<path d="M295.43,96.66L297.73,99.36L295.43,102.06L293.13,99.36Z" fill="#ff00ff"/>
<path d="M301.30,96.77L303.60,99.47L301.30,102.17L299.00,99.47Z" fill="#ff00ff"/>
<path d="M307.17,96.88L309.47,99.58L307.17,102.28L304.87,99.58Z" fill="#ff00ff"/>
<path d="M313.04,96.99L315.34,99.69L313.04,102.39L310.74,99.69Z" fill="#ff00ff"/>
<path d="M318.91,97.09L321.21,99.79L318.91,102.49L316.61,99.79Z" fill="#ff00ff"/>
<path d="M324.78,97.20L327.08,99.90L324.78,102.60L322.48,99.90Z" fill="#ff00ff"/>
<path d="M330.65,97.31L332.95,100.01L330.65,102.71L328.35,100.01Z" fill="#ff00ff"/>
<path d="M336.52,97.37L338.82,100.07L336.52,102.77L334.22,100.07Z" fill="#ff00ff"/>
<path d="M342.39,97.42L344.69,100.12L342.39,102.82L340.09,100.12Z" fill="#ff00ff"/>
<path d="M348.26,97.48L350.56,100.18L348.26,102.88L345.96,100.18Z" fill="#ff00ff"/>
<path d="M354.13,97.54L356.43,100.24L354.13,102.94L351.83,100.24Z" fill="#ff00ff"/>
<path d="M360.00,97.60L362.30,100.30L360.00,103.00L357.70,100.30Z" fill="#ff00ff"/>
<path d="M365.87,99.07L368.17,101.77L365.87,104.47L363.57,101.77Z" fill="#ff00ff"/>
<path d="M371.74,99.17L374.04,101.87L371.74,104.57L369.44,101.87Z" fill="#ff00ff"/>
<path d="M377.61,99.24L379.91,101.94L377.61,104.64L375.31,101.94Z" fill="#ff00ff"/>
<path d="M383.48,99.31L385.78,102.01L383.48,104.71L381.18,102.01Z" fill="#ff00ff"/>
<path d="M389.35,99.37L391.65,102.07L389.35,104.77L387.05,102.07Z" fill="#ff00ff"/>
<path d="M395.22,99.44L397.52,102.14L395.22,104.84L392.92,102.14Z" fill="#ff00ff"/>
<path d="M401.09,99.65L403.39,102.35L401.09,105.05L398.79,102.35Z" fill="#ff00ff"/>
<path d="M406.96,100.31L409.26,103.01L406.96,105.71L404.66,103.01Z" fill="#ff00ff"/>
<path d="M412.83,100.34L415.13,103.04L412.83,105.74L410.53,103.04Z" fill="#ff00ff"/>
<path d="M418.70,100.38L421.00,103.08L418.70,105.78L416.40,103.08Z" fill="#ff00ff"/>
<path d="M424.57,100.42L426.87,103.12L424.57,105.82L422.27,103.12Z" fill="#ff00ff"/>
<path d="M430.44,100.46L432.74,103.16L430.44,105.86L428.14,103.16Z" fill="#ff00ff"/>
<path d="M436.31,100.50L438.61,103.20L436.31,105.90L434.01,103.20Z" fill="#ff00ff"/>
<path d="M442.18,100.54L444.48,103.24L442.18,105.94L439.88,103.24Z" fill="#ff00ff"/>
<path d="M448.05,100.57L450.35,103.27L448.05,105.97L445.75,103.27Z" fill="#ff00ff"/>
<path d="M453.92,100.95L456.22,103.65L453.92,106.35L451.62,103.65Z" fill="#ff00ff"/>
<path d="M459.79,101.71L462.09,104.41L459.79,107.11L457.49,104.41Z" fill="#ff00ff"/>
<path d="M465.66,101.75L467.96,104.45L465.66,107.15L463.36,104.45Z" fill="#ff00ff"/>
<path d="M471.53,101.79L473.83,104.49L471.53,107.19L469.23,104.49Z" fill="#ff00ff"/>
<path d="M477.40,101.82L479.70,104.52L477.40,107.22L475.10,104.52Z" fill="#ff00ff"/>
<path d="M483.27,101.86L485.57,104.56L483.27,107.26L480.97,104.56Z" fill="#ff00ff"/>
</g>
<g clip-path="url(#cc)">
<polyline points="66.50,154.70 71.00,155.40 75.50,156.10 78.90,157.60 83.40,159.90 85.70,164.40 87.30,172.30 88.60,185.90 89.50,193.80 90.90,203.90 92.50,208.00 95.90,211.10 99.20,214.10 102.60,217.50 104.90,219.30 107.10,218.60 108.30,215.20 109.90,215.70 112.10,217.50 116.20,217.00 120.70,216.30 124.10,217.90 128.60,218.10 130.80,216.10 133.00,214.60 135.90,216.80 139.50,218.00 142.50,218.00 146.80,217.50 151.20,217.50 155.50,219.00 161.40,221.20 168.60,223.40 175.90,224.80 183.20,225.50 186.80,225.50 187.80,221.20 189.00,217.80 489.50,217.80" fill="none" stroke="#00f0ff" stroke-width="1.4" stroke-linejoin="round" />
<circle cx="72.40" cy="155.62" r="1.9" fill="#fff" stroke="#c8fbff" stroke-width="0.5"/>
<circle cx="78.27" cy="157.32" r="1.9" fill="#fff" stroke="#c8fbff" stroke-width="0.5"/>
<circle cx="84.14" cy="161.35" r="1.9" fill="#fff" stroke="#c8fbff" stroke-width="0.5"/>
<circle cx="90.01" cy="197.48" r="1.9" fill="#fff" stroke="#c8fbff" stroke-width="0.5"/>
<circle cx="95.88" cy="211.08" r="1.9" fill="#fff" stroke="#c8fbff" stroke-width="0.5"/>
<circle cx="101.75" cy="216.65" r="1.9" fill="#fff" stroke="#c8fbff" stroke-width="0.5"/>
<circle cx="107.62" cy="217.13" r="1.9" fill="#fff" stroke="#c8fbff" stroke-width="0.5"/>
<circle cx="113.49" cy="217.33" r="1.9" fill="#fff" stroke="#c8fbff" stroke-width="0.5"/>
<circle cx="119.36" cy="216.51" r="1.9" fill="#fff" stroke="#c8fbff" stroke-width="0.5"/>
<circle cx="125.23" cy="217.95" r="1.9" fill="#fff" stroke="#c8fbff" stroke-width="0.5"/>
<circle cx="131.10" cy="215.90" r="1.9" fill="#fff" stroke="#c8fbff" stroke-width="0.5"/>
<circle cx="136.97" cy="217.16" r="1.9" fill="#fff" stroke="#c8fbff" stroke-width="0.5"/>
<circle cx="142.84" cy="217.96" r="1.9" fill="#fff" stroke="#c8fbff" stroke-width="0.5"/>
<circle cx="148.71" cy="217.50" r="1.9" fill="#fff" stroke="#c8fbff" stroke-width="0.5"/>
<circle cx="154.58" cy="218.68" r="1.9" fill="#fff" stroke="#c8fbff" stroke-width="0.5"/>
<circle cx="160.45" cy="220.85" r="1.9" fill="#fff" stroke="#c8fbff" stroke-width="0.5"/>
<circle cx="166.32" cy="222.70" r="1.9" fill="#fff" stroke="#c8fbff" stroke-width="0.5"/>
<circle cx="172.19" cy="224.09" r="1.9" fill="#fff" stroke="#c8fbff" stroke-width="0.5"/>
<circle cx="178.06" cy="225.01" r="1.9" fill="#fff" stroke="#c8fbff" stroke-width="0.5"/>
<circle cx="183.93" cy="225.50" r="1.9" fill="#fff" stroke="#c8fbff" stroke-width="0.5"/>
<circle cx="189.80" cy="217.80" r="1.9" fill="#fff" stroke="#c8fbff" stroke-width="0.5"/>
<circle cx="195.67" cy="217.80" r="1.9" fill="#fff" stroke="#c8fbff" stroke-width="0.5"/>
<circle cx="201.54" cy="217.80" r="1.9" fill="#fff" stroke="#c8fbff" stroke-width="0.5"/>
<circle cx="207.41" cy="217.80" r="1.9" fill="#fff" stroke="#c8fbff" stroke-width="0.5"/>
<circle cx="213.28" cy="217.80" r="1.9" fill="#fff" stroke="#c8fbff" stroke-width="0.5"/>
<circle cx="219.15" cy="217.80" r="1.9" fill="#fff" stroke="#c8fbff" stroke-width="0.5"/>
<circle cx="225.02" cy="217.80" r="1.9" fill="#fff" stroke="#c8fbff" stroke-width="0.5"/>
<circle cx="230.89" cy="217.80" r="1.9" fill="#fff" stroke="#c8fbff" stroke-width="0.5"/>
<circle cx="236.76" cy="217.80" r="1.9" fill="#fff" stroke="#c8fbff" stroke-width="0.5"/>
<circle cx="242.63" cy="217.80" r="1.9" fill="#fff" stroke="#c8fbff" stroke-width="0.5"/>
<circle cx="248.50" cy="217.80" r="1.9" fill="#fff" stroke="#c8fbff" stroke-width="0.5"/>
<circle cx="254.37" cy="217.80" r="1.9" fill="#fff" stroke="#c8fbff" stroke-width="0.5"/>
<circle cx="260.24" cy="217.80" r="1.9" fill="#fff" stroke="#c8fbff" stroke-width="0.5"/>
<circle cx="266.11" cy="217.80" r="1.9" fill="#fff" stroke="#c8fbff" stroke-width="0.5"/>
<circle cx="271.98" cy="217.80" r="1.9" fill="#fff" stroke="#c8fbff" stroke-width="0.5"/>
<circle cx="277.85" cy="217.80" r="1.9" fill="#fff" stroke="#c8fbff" stroke-width="0.5"/>
<circle cx="283.72" cy="217.80" r="1.9" fill="#fff" stroke="#c8fbff" stroke-width="0.5"/>
<circle cx="289.59" cy="217.80" r="1.9" fill="#fff" stroke="#c8fbff" stroke-width="0.5"/>
<circle cx="295.46" cy="217.80" r="1.9" fill="#fff" stroke="#c8fbff" stroke-width="0.5"/>
<circle cx="301.33" cy="217.80" r="1.9" fill="#fff" stroke="#c8fbff" stroke-width="0.5"/>
<circle cx="307.20" cy="217.80" r="1.9" fill="#fff" stroke="#c8fbff" stroke-width="0.5"/>
<circle cx="313.07" cy="217.80" r="1.9" fill="#fff" stroke="#c8fbff" stroke-width="0.5"/>
<circle cx="318.94" cy="217.80" r="1.9" fill="#fff" stroke="#c8fbff" stroke-width="0.5"/>
<circle cx="324.81" cy="217.80" r="1.9" fill="#fff" stroke="#c8fbff" stroke-width="0.5"/>
<circle cx="330.68" cy="217.80" r="1.9" fill="#fff" stroke="#c8fbff" stroke-width="0.5"/>
<circle cx="336.55" cy="217.80" r="1.9" fill="#fff" stroke="#c8fbff" stroke-width="0.5"/>
<circle cx="342.42" cy="217.80" r="1.9" fill="#fff" stroke="#c8fbff" stroke-width="0.5"/>
<circle cx="348.29" cy="217.80" r="1.9" fill="#fff" stroke="#c8fbff" stroke-width="0.5"/>
<circle cx="354.16" cy="217.80" r="1.9" fill="#fff" stroke="#c8fbff" stroke-width="0.5"/>
<circle cx="360.03" cy="217.80" r="1.9" fill="#fff" stroke="#c8fbff" stroke-width="0.5"/>
<circle cx="365.90" cy="217.80" r="1.9" fill="#fff" stroke="#c8fbff" stroke-width="0.5"/>
<circle cx="371.77" cy="217.80" r="1.9" fill="#fff" stroke="#c8fbff" stroke-width="0.5"/>
<circle cx="377.64" cy="217.80" r="1.9" fill="#fff" stroke="#c8fbff" stroke-width="0.5"/>
<circle cx="383.51" cy="217.80" r="1.9" fill="#fff" stroke="#c8fbff" stroke-width="0.5"/>
<circle cx="389.38" cy="217.80" r="1.9" fill="#fff" stroke="#c8fbff" stroke-width="0.5"/>
<circle cx="395.25" cy="217.80" r="1.9" fill="#fff" stroke="#c8fbff" stroke-width="0.5"/>
<circle cx="401.12" cy="217.80" r="1.9" fill="#fff" stroke="#c8fbff" stroke-width="0.5"/>
<circle cx="406.99" cy="217.80" r="1.9" fill="#fff" stroke="#c8fbff" stroke-width="0.5"/>
<circle cx="412.86" cy="217.80" r="1.9" fill="#fff" stroke="#c8fbff" stroke-width="0.5"/>
<circle cx="418.73" cy="217.80" r="1.9" fill="#fff" stroke="#c8fbff" stroke-width="0.5"/>
<circle cx="424.60" cy="217.80" r="1.9" fill="#fff" stroke="#c8fbff" stroke-width="0.5"/>
<circle cx="430.47" cy="217.80" r="1.9" fill="#fff" stroke="#c8fbff" stroke-width="0.5"/>
<circle cx="436.34" cy="217.80" r="1.9" fill="#fff" stroke="#c8fbff" stroke-width="0.5"/>
<circle cx="442.21" cy="217.80" r="1.9" fill="#fff" stroke="#c8fbff" stroke-width="0.5"/>
<circle cx="448.08" cy="217.80" r="1.9" fill="#fff" stroke="#c8fbff" stroke-width="0.5"/>
<circle cx="453.95" cy="217.80" r="1.9" fill="#fff" stroke="#c8fbff" stroke-width="0.5"/>
<circle cx="459.82" cy="217.80" r="1.9" fill="#fff" stroke="#c8fbff" stroke-width="0.5"/>
<circle cx="465.69" cy="217.80" r="1.9" fill="#fff" stroke="#c8fbff" stroke-width="0.5"/>
<circle cx="471.56" cy="217.80" r="1.9" fill="#fff" stroke="#c8fbff" stroke-width="0.5"/>
<circle cx="477.43" cy="217.80" r="1.9" fill="#fff" stroke="#c8fbff" stroke-width="0.5"/>
<circle cx="483.30" cy="217.80" r="1.9" fill="#fff" stroke="#c8fbff" stroke-width="0.5"/>
<polyline points="66.50,226.00 112.60,210.20 142.40,204.90 149.50,203.70 189.00,200.50 237.80,204.20 272.10,205.00 324.20,203.20 360.60,205.00 403.00,205.50 455.20,207.40 489.50,205.80" fill="none" stroke="#86860e" stroke-width="1.3" stroke-linejoin="round" />
<polygon points="112.60,207.80 113.23,209.33 114.88,209.46 113.63,210.53 114.01,212.14 112.60,211.28 111.19,212.14 111.57,210.53 110.32,209.46 111.97,209.33" fill="#6b6b00"/>
<polygon points="142.40,202.50 143.03,204.03 144.68,204.16 143.43,205.23 143.81,206.84 142.40,205.98 140.99,206.84 141.37,205.23 140.12,204.16 141.77,204.03" fill="#6b6b00"/>
<polygon points="149.50,201.30 150.13,202.83 151.78,202.96 150.53,204.03 150.91,205.64 149.50,204.78 148.09,205.64 148.47,204.03 147.22,202.96 148.87,202.83" fill="#6b6b00"/>
<polygon points="189.00,198.10 189.63,199.63 191.28,199.76 190.03,200.83 190.41,202.44 189.00,201.58 187.59,202.44 187.97,200.83 186.72,199.76 188.37,199.63" fill="#6b6b00"/>
<polygon points="237.80,201.80 238.43,203.33 240.08,203.46 238.83,204.53 239.21,206.14 237.80,205.28 236.39,206.14 236.77,204.53 235.52,203.46 237.17,203.33" fill="#6b6b00"/>
<polygon points="272.10,202.60 272.73,204.13 274.38,204.26 273.13,205.33 273.51,206.94 272.10,206.08 270.69,206.94 271.07,205.33 269.82,204.26 271.47,204.13" fill="#6b6b00"/>
<polygon points="324.20,200.80 324.83,202.33 326.48,202.46 325.23,203.53 325.61,205.14 324.20,204.28 322.79,205.14 323.17,203.53 321.92,202.46 323.57,202.33" fill="#6b6b00"/>
<polygon points="360.60,202.60 361.23,204.13 362.88,204.26 361.63,205.33 362.01,206.94 360.60,206.08 359.19,206.94 359.57,205.33 358.32,204.26 359.97,204.13" fill="#6b6b00"/>
<polygon points="403.00,203.10 403.63,204.63 405.28,204.76 404.03,205.83 404.41,207.44 403.00,206.58 401.59,207.44 401.97,205.83 400.72,204.76 402.37,204.63" fill="#6b6b00"/>
<polygon points="455.20,205.00 455.83,206.53 457.48,206.66 456.23,207.73 456.61,209.34 455.20,208.48 453.79,209.34 454.17,207.73 452.92,206.66 454.57,206.53" fill="#6b6b00"/>
</g>
<g clip-path="url(#cd)">
<polyline points="66.50,302.50 112.50,284.80 142.40,285.40 149.60,282.40 188.90,284.30 237.50,295.00 272.30,300.80 324.10,302.30 360.50,302.40 403.40,302.50 455.70,302.50 489.50,302.50" fill="none" stroke="#009000" stroke-width="1.1" stroke-linejoin="round" />
<polyline points="66.50,302.40 112.80,300.90 142.60,300.00 149.60,296.00 188.90,290.60 237.50,283.80 272.30,279.70 324.10,276.60 360.50,274.80 403.40,273.80 455.70,273.80 489.50,273.40" fill="none" stroke="#0000ff" stroke-width="1.1" stroke-linejoin="round" />
<polyline points="66.50,302.40 112.80,281.30 142.60,280.70 149.40,270.80 188.90,263.90 237.50,262.60 272.30,262.10 324.10,265.20 360.50,265.90 403.40,265.90 455.70,267.60 489.50,267.80" fill="none" stroke="#ff2020" stroke-width="1.1" stroke-linejoin="round" />
<polyline points="66.50,240.40 112.80,292.40 142.60,293.70 149.60,286.30 189.60,302.60" fill="none" stroke="#000000" stroke-width="1.1" stroke-linejoin="round" />
<path d="M114.60,284.80L110.61,282.70L110.61,286.90Z" fill="#008000"/>
<path d="M144.50,285.40L140.51,283.30L140.51,287.50Z" fill="#008000"/>
<path d="M151.70,282.40L147.71,280.30L147.71,284.50Z" fill="#008000"/>
<path d="M191.00,284.30L187.01,282.20L187.01,286.40Z" fill="#008000"/>
<path d="M239.60,295.00L235.61,292.90L235.61,297.10Z" fill="#008000"/>
<path d="M274.40,300.80L270.41,298.70L270.41,302.90Z" fill="#008000"/>
<path d="M326.20,302.30L322.21,300.20L322.21,304.40Z" fill="#008000"/>
<path d="M362.60,302.40L358.61,300.30L358.61,304.50Z" fill="#008000"/>
<path d="M405.50,302.50L401.51,300.40L401.51,304.60Z" fill="#008000"/>
<path d="M457.80,302.50L453.81,300.40L453.81,304.60Z" fill="#008000"/>
<circle cx="112.80" cy="300.90" r="1.8" fill="#fff" stroke="#9090ff" stroke-width="0.6"/>
<circle cx="142.60" cy="300.00" r="1.8" fill="#fff" stroke="#9090ff" stroke-width="0.6"/>
<circle cx="149.60" cy="296.00" r="1.8" fill="#fff" stroke="#9090ff" stroke-width="0.6"/>
<circle cx="188.90" cy="290.60" r="1.8" fill="#fff" stroke="#9090ff" stroke-width="0.6"/>
<circle cx="237.50" cy="283.80" r="1.8" fill="#fff" stroke="#9090ff" stroke-width="0.6"/>
<circle cx="272.30" cy="279.70" r="1.8" fill="#fff" stroke="#9090ff" stroke-width="0.6"/>
<circle cx="324.10" cy="276.60" r="1.8" fill="#fff" stroke="#9090ff" stroke-width="0.6"/>
<circle cx="360.50" cy="274.80" r="1.8" fill="#fff" stroke="#9090ff" stroke-width="0.6"/>
<circle cx="403.40" cy="273.80" r="1.8" fill="#fff" stroke="#9090ff" stroke-width="0.6"/>
<circle cx="455.70" cy="273.80" r="1.8" fill="#fff" stroke="#9090ff" stroke-width="0.6"/>
<circle cx="112.80" cy="281.30" r="1.8" fill="#fff" stroke="#ff9090" stroke-width="0.6"/>
<circle cx="142.60" cy="280.70" r="1.8" fill="#fff" stroke="#ff9090" stroke-width="0.6"/>
<circle cx="149.40" cy="270.80" r="1.8" fill="#fff" stroke="#ff9090" stroke-width="0.6"/>
<circle cx="188.90" cy="263.90" r="1.8" fill="#fff" stroke="#ff9090" stroke-width="0.6"/>
<circle cx="237.50" cy="262.60" r="1.8" fill="#fff" stroke="#ff9090" stroke-width="0.6"/>
<circle cx="272.30" cy="262.10" r="1.8" fill="#fff" stroke="#ff9090" stroke-width="0.6"/>
<circle cx="324.10" cy="265.20" r="1.8" fill="#fff" stroke="#ff9090" stroke-width="0.6"/>
<circle cx="360.50" cy="265.90" r="1.8" fill="#fff" stroke="#ff9090" stroke-width="0.6"/>
<circle cx="403.40" cy="265.90" r="1.8" fill="#fff" stroke="#ff9090" stroke-width="0.6"/>
<circle cx="455.70" cy="267.60" r="1.8" fill="#fff" stroke="#ff9090" stroke-width="0.6"/>
<path d="M64.40,240.40L68.39,238.30L68.39,242.50Z" fill="#000"/>
<path d="M110.70,292.40L114.69,290.30L114.69,294.50Z" fill="#000"/>
<path d="M140.50,293.70L144.49,291.60L144.49,295.80Z" fill="#000"/>
<path d="M147.50,286.30L151.49,284.20L151.49,288.40Z" fill="#000"/>
<path d="M188.50,302.00L192.49,299.90L192.49,304.10Z" fill="#000"/>
<path d="M236.20,302.00L240.19,299.90L240.19,304.10Z" fill="#000"/>
</g>
<text x="0" y="0" transform="translate(56.8,63.0) scale(1,1.07)" font-family="Liberation Sans, sans-serif" font-size="8.6" fill="#1a1a1a" text-anchor="end" font-weight="normal" >10</text>
<text x="0" y="0" transform="translate(56.8,41.8) scale(1,1.07)" font-family="Liberation Sans, sans-serif" font-size="8.6" fill="#1a1a1a" text-anchor="end" font-weight="normal" >20</text>
<text x="0" y="0" transform="translate(56.8,20.599999999999998) scale(1,1.07)" font-family="Liberation Sans, sans-serif" font-size="8.6" fill="#1a1a1a" text-anchor="end" font-weight="normal" >30</text>
<text x="0" y="0" transform="translate(56.8,143.39999999999998) scale(1,1.07)" font-family="Liberation Sans, sans-serif" font-size="8.6" fill="#1a1a1a" text-anchor="end" font-weight="normal" >20</text>
<text x="0" y="0" transform="translate(56.8,128.6) scale(1,1.07)" font-family="Liberation Sans, sans-serif" font-size="8.6" fill="#1a1a1a" text-anchor="end" font-weight="normal" >40</text>
<text x="0" y="0" transform="translate(56.8,113.8) scale(1,1.07)" font-family="Liberation Sans, sans-serif" font-size="8.6" fill="#1a1a1a" text-anchor="end" font-weight="normal" >60</text>
<text x="0" y="0" transform="translate(56.8,99.0) scale(1,1.07)" font-family="Liberation Sans, sans-serif" font-size="8.6" fill="#1a1a1a" text-anchor="end" font-weight="normal" >80</text>
<text x="0" y="0" transform="translate(56.8,84.2) scale(1,1.07)" font-family="Liberation Sans, sans-serif" font-size="8.6" fill="#1a1a1a" text-anchor="end" font-weight="normal" >100</text>
<text x="0" y="0" transform="translate(56.8,217.39999999999998) scale(1,1.07)" font-family="Liberation Sans, sans-serif" font-size="8.6" fill="#1a1a1a" text-anchor="end" font-weight="normal" >10</text>
<text x="0" y="0" transform="translate(56.8,202.6) scale(1,1.07)" font-family="Liberation Sans, sans-serif" font-size="8.6" fill="#1a1a1a" text-anchor="end" font-weight="normal" >20</text>
<text x="0" y="0" transform="translate(56.8,187.79999999999998) scale(1,1.07)" font-family="Liberation Sans, sans-serif" font-size="8.6" fill="#1a1a1a" text-anchor="end" font-weight="normal" >30</text>
<text x="0" y="0" transform="translate(56.8,173.0) scale(1,1.07)" font-family="Liberation Sans, sans-serif" font-size="8.6" fill="#1a1a1a" text-anchor="end" font-weight="normal" >40</text>
<text x="0" y="0" transform="translate(56.8,158.2) scale(1,1.07)" font-family="Liberation Sans, sans-serif" font-size="8.6" fill="#1a1a1a" text-anchor="end" font-weight="normal" >50</text>
<text x="0" y="0" transform="translate(56.8,305.2) scale(1,1.07)" font-family="Liberation Sans, sans-serif" font-size="8.6" fill="#1a1a1a" text-anchor="end" font-weight="normal" >0</text>
<text x="0" y="0" transform="translate(56.8,286.95) scale(1,1.07)" font-family="Liberation Sans, sans-serif" font-size="8.6" fill="#1a1a1a" text-anchor="end" font-weight="normal" >50</text>
<text x="0" y="0" transform="translate(56.8,268.7) scale(1,1.07)" font-family="Liberation Sans, sans-serif" font-size="8.6" fill="#1a1a1a" text-anchor="end" font-weight="normal" >100</text>
<text x="0" y="0" transform="translate(56.8,250.45) scale(1,1.07)" font-family="Liberation Sans, sans-serif" font-size="8.6" fill="#1a1a1a" text-anchor="end" font-weight="normal" >150</text>
<text x="0" y="0" transform="translate(56.8,232.2) scale(1,1.07)" font-family="Liberation Sans, sans-serif" font-size="8.6" fill="#1a1a1a" text-anchor="end" font-weight="normal" >200</text>
<text x="0" y="0" transform="translate(499.2,139.3) scale(1,1.07)" font-family="Liberation Sans, sans-serif" font-size="8.6" fill="#1a1a1a" text-anchor="start" font-weight="normal" >600</text>
<text x="0" y="0" transform="translate(499.2,120.8) scale(1,1.07)" font-family="Liberation Sans, sans-serif" font-size="8.6" fill="#1a1a1a" text-anchor="start" font-weight="normal" >800</text>
<text x="0" y="0" transform="translate(499.2,102.3) scale(1,1.07)" font-family="Liberation Sans, sans-serif" font-size="8.6" fill="#1a1a1a" text-anchor="start" font-weight="normal" >1000</text>
<text x="0" y="0" transform="translate(499.2,83.8) scale(1,1.07)" font-family="Liberation Sans, sans-serif" font-size="8.6" fill="#1a1a1a" text-anchor="start" font-weight="normal" >1200</text>
<text x="0" y="0" transform="translate(499.2,231.8) scale(1,1.07)" font-family="Liberation Sans, sans-serif" font-size="8.6" fill="#1a1a1a" text-anchor="start" font-weight="normal" >3</text>
<text x="0" y="0" transform="translate(499.2,213.3) scale(1,1.07)" font-family="Liberation Sans, sans-serif" font-size="8.6" fill="#1a1a1a" text-anchor="start" font-weight="normal" >4</text>
<text x="0" y="0" transform="translate(499.2,194.8) scale(1,1.07)" font-family="Liberation Sans, sans-serif" font-size="8.6" fill="#1a1a1a" text-anchor="start" font-weight="normal" >5</text>
<text x="0" y="0" transform="translate(499.2,176.3) scale(1,1.07)" font-family="Liberation Sans, sans-serif" font-size="8.6" fill="#1a1a1a" text-anchor="start" font-weight="normal" >6</text>
<text x="0" y="0" transform="translate(499.2,157.8) scale(1,1.07)" font-family="Liberation Sans, sans-serif" font-size="8.6" fill="#1a1a1a" text-anchor="start" font-weight="normal" >7</text>
<text x="0" y="0" transform="translate(66.5,319.7) scale(1,1.12)" font-family="Liberation Sans, sans-serif" font-size="8.6" fill="#1a1a1a" text-anchor="middle" font-weight="normal" >0</text>
<text x="0" y="0" transform="translate(108.8,319.7) scale(1,1.12)" font-family="Liberation Sans, sans-serif" font-size="8.6" fill="#1a1a1a" text-anchor="middle" font-weight="normal" >24</text>
<text x="0" y="0" transform="translate(151.1,319.7) scale(1,1.12)" font-family="Liberation Sans, sans-serif" font-size="8.6" fill="#1a1a1a" text-anchor="middle" font-weight="normal" >48</text>
<text x="0" y="0" transform="translate(193.4,319.7) scale(1,1.12)" font-family="Liberation Sans, sans-serif" font-size="8.6" fill="#1a1a1a" text-anchor="middle" font-weight="normal" >72</text>
<text x="0" y="0" transform="translate(235.7,319.7) scale(1,1.12)" font-family="Liberation Sans, sans-serif" font-size="8.6" fill="#1a1a1a" text-anchor="middle" font-weight="normal" >96</text>
<text x="0" y="0" transform="translate(278.0,319.7) scale(1,1.12)" font-family="Liberation Sans, sans-serif" font-size="8.6" fill="#1a1a1a" text-anchor="middle" font-weight="normal" >120</text>
<text x="0" y="0" transform="translate(320.3,319.7) scale(1,1.12)" font-family="Liberation Sans, sans-serif" font-size="8.6" fill="#1a1a1a" text-anchor="middle" font-weight="normal" >144</text>
<text x="0" y="0" transform="translate(362.6,319.7) scale(1,1.12)" font-family="Liberation Sans, sans-serif" font-size="8.6" fill="#1a1a1a" text-anchor="middle" font-weight="normal" >168</text>
<text x="0" y="0" transform="translate(404.9,319.7) scale(1,1.12)" font-family="Liberation Sans, sans-serif" font-size="8.6" fill="#1a1a1a" text-anchor="middle" font-weight="normal" >192</text>
<text x="0" y="0" transform="translate(447.2,319.7) scale(1,1.12)" font-family="Liberation Sans, sans-serif" font-size="8.6" fill="#1a1a1a" text-anchor="middle" font-weight="normal" >216</text>
<text x="0" y="0" transform="translate(489.5,319.7) scale(1,1.12)" font-family="Liberation Sans, sans-serif" font-size="8.6" fill="#1a1a1a" text-anchor="middle" font-weight="normal" >240</text>
<text x="468.7" y="20.8" font-family="Liberation Sans, sans-serif" font-size="10.5" fill="#111" text-anchor="start" font-weight="bold" >a</text>
<text x="468.7" y="94.0" font-family="Liberation Sans, sans-serif" font-size="10.5" fill="#111" text-anchor="start" font-weight="bold" >b</text>
<text x="468.7" y="168.2" font-family="Liberation Sans, sans-serif" font-size="10.5" fill="#111" text-anchor="start" font-weight="bold" >c</text>
<text x="468.7" y="242.2" font-family="Liberation Sans, sans-serif" font-size="10.5" fill="#111" text-anchor="start" font-weight="bold" >d</text>
<text x="151.7" y="19.0" font-family="Liberation Sans, sans-serif" font-size="7.8" fill="#222" text-anchor="start" font-weight="normal" >Feed</text>
<text x="257.0" y="335.9" font-family="Liberation Sans, sans-serif" font-size="9.6" fill="#222" text-anchor="start" font-weight="bold" >Time</text>
<text x="287.8" y="335.9" font-family="Liberation Sans, sans-serif" font-size="9.6" fill="#222" text-anchor="start" font-weight="bold" >[h]</text>
<line x1="400" y1="20.3" x2="419.5" y2="20.3" stroke="#ff0000" stroke-width="1.4"/>
<circle cx="409.80" cy="20.30" r="1.9" fill="#fff" stroke="#ff9a9a" stroke-width="0.6"/>
<text x="421.5" y="23.2" font-family="Liberation Sans, sans-serif" font-size="8.25" fill="#333" text-anchor="start" font-weight="normal" >CTR</text>
<line x1="287" y1="112.9" x2="307" y2="112.9" stroke="#ff8c1a" stroke-width="1.4"/>
<circle cx="297.00" cy="112.90" r="1.9" fill="#fff" stroke="#ffc090" stroke-width="0.6"/>
<text x="308.5" y="115.9" font-family="Liberation Sans, sans-serif" font-size="8.25" fill="#333" text-anchor="start" font-weight="normal" >DOT</text>
<line x1="287" y1="122.8" x2="307" y2="122.8" stroke="#ff00ff" stroke-width="1.4"/>
<path d="M297.00,120.10L299.30,122.80L297.00,125.50L294.70,122.80Z" fill="#ff00ff"/>
<text x="308.5" y="125.8" font-family="Liberation Sans, sans-serif" font-size="8.25" fill="#333" text-anchor="start" font-weight="normal" >Filling volume</text>
<line x1="358.5" y1="112.8" x2="378" y2="112.8" stroke="#a03030" stroke-width="1.8"/>
<circle cx="368.20" cy="112.80" r="1.6" fill="#fff" stroke="#e0b0b0" stroke-width="0.5"/>
<text x="379.8" y="115.4" font-family="Liberation Sans, sans-serif" font-size="8.25" fill="#333" text-anchor="start" font-weight="normal" >Stirring rate</text>
<line x1="359.8" y1="178.5" x2="378.8" y2="178.5" stroke="#86860e" stroke-width="1.3"/>
<polygon points="369.50,176.10 370.13,177.63 371.78,177.76 370.53,178.83 370.91,180.44 369.50,179.58 368.09,180.44 368.47,178.83 367.22,177.76 368.87,177.63" fill="#6b6b00"/>
<text x="380.6" y="181.0" font-family="Liberation Sans, sans-serif" font-size="8.25" fill="#333" text-anchor="start" font-weight="normal" >CDW</text>
<line x1="359.8" y1="188.6" x2="378.8" y2="188.6" stroke="#00f0ff" stroke-width="1.4"/>
<circle cx="369.50" cy="188.60" r="1.9" fill="#fff" stroke="#b0f8ff" stroke-width="0.6"/>
<text x="380.6" y="191.3" font-family="Liberation Sans, sans-serif" font-size="8.25" fill="#333" text-anchor="start" font-weight="normal" >pH</text>
<line x1="320" y1="240.9" x2="338.6" y2="240.9" stroke="#000" stroke-width="1.1"/>
<path d="M327.70,240.90L331.69,238.80L331.69,243.00Z" fill="#000"/>
<text x="341.3" y="243.9" font-family="Liberation Sans, sans-serif" font-size="8.25" fill="#333" text-anchor="start" font-weight="normal" >Sucrose</text>
<line x1="320" y1="250.9" x2="338.6" y2="250.9" stroke="#009000" stroke-width="1.1"/>
<path d="M331.90,250.90L327.91,248.80L327.91,253.00Z" fill="#008000"/>
<text x="341.3" y="253.9" font-family="Liberation Sans, sans-serif" font-size="8.25" fill="#333" text-anchor="start" font-weight="normal" >Glucose</text>
<line x1="373.7" y1="240.9" x2="392.3" y2="240.9" stroke="#ff2020" stroke-width="1.1"/>
<circle cx="383.00" cy="240.90" r="1.8" fill="#fff" stroke="#ff9090" stroke-width="0.6"/>
<text x="395.0" y="243.9" font-family="Liberation Sans, sans-serif" font-size="8.25" fill="#333" text-anchor="start" font-weight="normal" >Fructose</text>
<line x1="373.7" y1="250.9" x2="392.3" y2="250.9" stroke="#0000ff" stroke-width="1.1"/>
<circle cx="383.00" cy="250.90" r="1.8" fill="#fff" stroke="#9090ff" stroke-width="0.6"/>
<text x="395.0" y="253.9" font-family="Liberation Sans, sans-serif" font-size="8.25" fill="#333" text-anchor="start" font-weight="normal" >Itaconic acid</text>
<text x="0" y="0" transform="translate(35.0,83.2) rotate(-90)" font-family="Liberation Sans, sans-serif" font-size="9.5" font-weight="bold" xml:space="preserve"><tspan fill="#ff0000">CTR</tspan></text>
<text x="0" y="0" transform="translate(35.0,53.8) rotate(-90)" font-family="Liberation Sans, sans-serif" font-size="9.5" font-weight="bold" xml:space="preserve"><tspan fill="#111">[mmol/L/h]</tspan></text>
<text x="0" y="0" transform="translate(35.0,140.8) rotate(-90)" font-family="Liberation Sans, sans-serif" font-size="9.5" font-weight="bold" xml:space="preserve"><tspan fill="#ff8000">DOT</tspan></text>
<text x="0" y="0" transform="translate(35.8,109.9) rotate(-90)" font-family="Liberation Sans, sans-serif" font-size="9.5" font-weight="bold" xml:space="preserve"><tspan fill="#111">[%]</tspan></text>
<text x="0" y="0" transform="translate(36.2,215.3) rotate(-90)" font-family="Liberation Sans, sans-serif" font-size="9.5" font-weight="bold" xml:space="preserve"><tspan fill="#84900a">CDW</tspan></text>
<text x="0" y="0" transform="translate(36.0,183.7) rotate(-90)" font-family="Liberation Sans, sans-serif" font-size="9.5" font-weight="bold" xml:space="preserve"><tspan fill="#111">[g/L]</tspan></text>
<text x="0" y="0" transform="translate(10.5,285.5) rotate(-90)" font-family="Liberation Sans, sans-serif" font-size="9.5" font-weight="bold" xml:space="preserve"><tspan fill="#000">Sucrose,</tspan></text>
<text x="0" y="0" transform="translate(23.2,307.9) rotate(-90)" font-family="Liberation Sans, sans-serif" font-size="9.5" font-weight="bold" xml:space="preserve"><tspan fill="#ff0000">fructose, </tspan><tspan fill="#008000">glucose,</tspan></text>
<text x="0" y="0" transform="translate(35.0,308.3) rotate(-90)" font-family="Liberation Sans, sans-serif" font-size="9.5" font-weight="bold" xml:space="preserve"><tspan fill="#0000ff">itaconic acid</tspan></text>
<text x="0" y="0" transform="translate(35.0,242.9) rotate(-90)" font-family="Liberation Sans, sans-serif" font-size="9.5" font-weight="bold" xml:space="preserve"><tspan fill="#111">[g/L]</tspan></text>
<text x="0" y="0" transform="translate(530.6,161.5) rotate(-90)" font-family="Liberation Sans, sans-serif" font-size="9.5" font-weight="bold" xml:space="preserve"><tspan fill="#a00c0c">Stirring rate</tspan></text>
<text x="0" y="0" transform="translate(531.0,98.4) rotate(-90)" font-family="Liberation Sans, sans-serif" font-size="9.5" font-weight="bold" xml:space="preserve"><tspan fill="#111">[rpm]</tspan></text>
<text x="0" y="0" transform="translate(543.0,164.0) rotate(-90)" font-family="Liberation Sans, sans-serif" font-size="9.5" font-weight="bold" xml:space="preserve"><tspan fill="#ff00ff">Filling volume</tspan></text>
<text x="0" y="0" transform="translate(543.0,91.7) rotate(-90)" font-family="Liberation Sans, sans-serif" font-size="9.5" font-weight="bold" xml:space="preserve"><tspan fill="#111">[mL]</tspan></text>
<text x="0" y="0" transform="translate(516.6,208.2) rotate(-90)" font-family="Liberation Sans, sans-serif" font-size="9.5" font-weight="bold" xml:space="preserve"><tspan fill="#10e0f8">pH</tspan></text>
<text x="0" y="0" transform="translate(516.4,185.2) rotate(-90)" font-family="Liberation Sans, sans-serif" font-size="9.5" font-weight="bold" xml:space="preserve"><tspan fill="#111">[-]</tspan></text>
</svg></body></html>
